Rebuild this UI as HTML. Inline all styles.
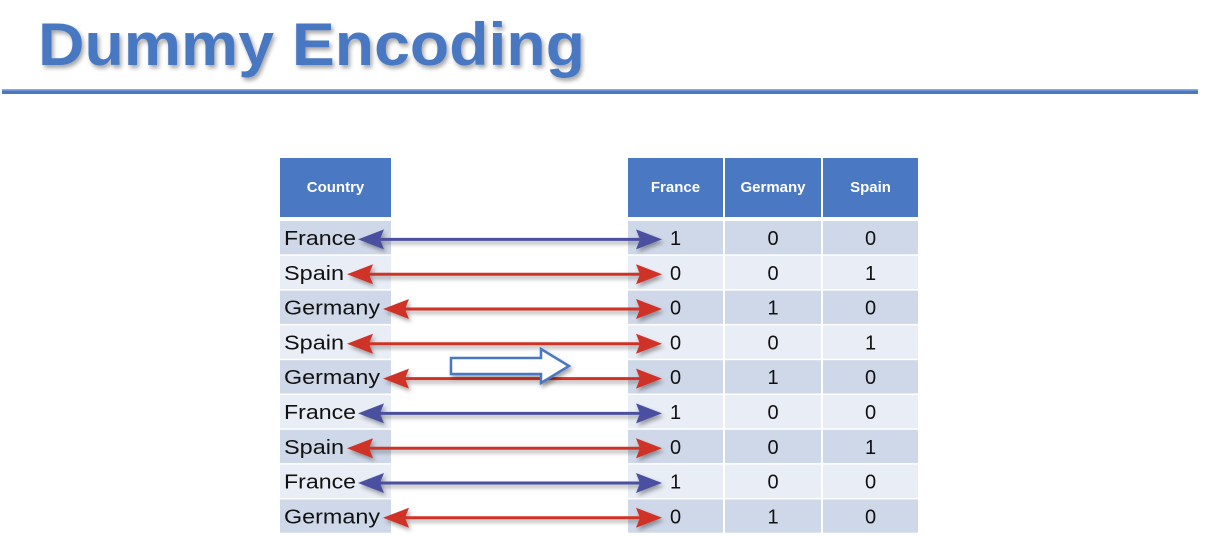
<!DOCTYPE html>
<html><head><meta charset="utf-8"><style>
html,body{margin:0;padding:0;background:#fff;}
svg{display:block;font-family:"Liberation Sans",sans-serif;}
</style></head><body>
<svg id="s" width="1206" height="558" viewBox="0 0 1206 558">
<defs>
<filter id="sh" x="-5%" y="-20%" width="110%" height="160%"><feDropShadow dx="2" dy="3" stdDeviation="2" flood-color="#000" flood-opacity="0.35"/></filter>
</defs>
<text x="38" y="65" font-size="60" font-weight="bold" fill="#4a78c2" textLength="547" lengthAdjust="spacingAndGlyphs" filter="url(#sh)">Dummy Encoding</text>
<rect x="2" y="89" width="1196" height="5" fill="#4a78c2"/>
<rect x="2" y="89" width="1196" height="1.5" fill="#8fabdc"/>
<g id="g"></g>
</svg>
<script>
const countries = ["France","Spain","Germany","Spain","Germany","France","Spain","France","Germany"];
const columns = ["France","Germany","Spain"];
const g = document.getElementById('g');
const NS = "http://www.w3.org/2000/svg";
function mk(tag, attrs, parent){const e=document.createElementNS(NS,tag);for(const k in attrs)e.setAttribute(k,attrs[k]);(parent||g).appendChild(e);return e;}
const rowTop = 221, rowH = 34.8;
const colX = [628,725,823], colW = [95,96,95];
const textEnd = {France:356, Spain:345, Germany:381};
const textLen = {France:72, Spain:60, Germany:96};
const hc = mk('rect',{x:280,y:158,width:111,height:59,fill:'#4a78c2'});


const ht = mk('text',{x:335.5,y:192,'font-size':15,'font-weight':'bold',fill:'#fff','text-anchor':'middle'});
ht.textContent='Country';


columns.forEach((c,i)=>{
  const r=mk('rect',{x:colX[i],y:158,width:colW[i],height:59,fill:'#4a78c2'});
  
  
  const t=mk('text',{x:colX[i]+colW[i]/2,y:192,'font-size':15,'font-weight':'bold',fill:'#fff','text-anchor':'middle'});
  t.textContent=c;
  
  
});
countries.forEach((c,i)=>{
  const y=rowTop+i*rowH, fill=i%2===0?'#cfd8e8':'#e9edf5';
  const lc=mk('rect',{x:280,y:y,width:111,height:rowH-1.5,fill:fill});
  
  
  const lt=mk('text',{x:284,y:y+24,'font-size':20,fill:'#111',textLength:textLen[c],lengthAdjust:'spacingAndGlyphs'});
  lt.textContent=c;
  
  
  columns.forEach((col,j)=>{
    const r=mk('rect',{x:colX[j],y:y,width:colW[j],height:rowH-1.5,fill:fill});
    
    
    const t=mk('text',{x:colX[j]+colW[j]/2,y:y+24,'font-size':20,fill:'#111','text-anchor':'middle'});
    t.textContent=(col===c)?'1':'0';
    
    
  });
  const col=c==='France'?'#4b4fa0':'#cf3127';
  const cy=y+rowH/2+1, x1=textEnd[c]+2, x2=662;
  const a=mk('g',{filter:'url(#sh)'});
  
  
  mk('line',{x1:x1+20,y1:cy,x2:x2-20,y2:cy,stroke:col,'stroke-width':3},a);
  mk('polygon',{points:`${x1},${cy} ${x1+26},${cy-10} ${x1+22},${cy} ${x1+26},${cy+10}`,fill:col},a);
  mk('polygon',{points:`${x2},${cy} ${x2-26},${cy-10} ${x2-22},${cy} ${x2-26},${cy+10}`,fill:col},a);
});
const ba=mk('polygon',{points:'451,358 541,358 541,349 569,366 541,383 541,374 451,374',fill:'#fff',stroke:'#4a78c2','stroke-width':2.5,filter:'url(#sh)'});


</script>
</body></html>
